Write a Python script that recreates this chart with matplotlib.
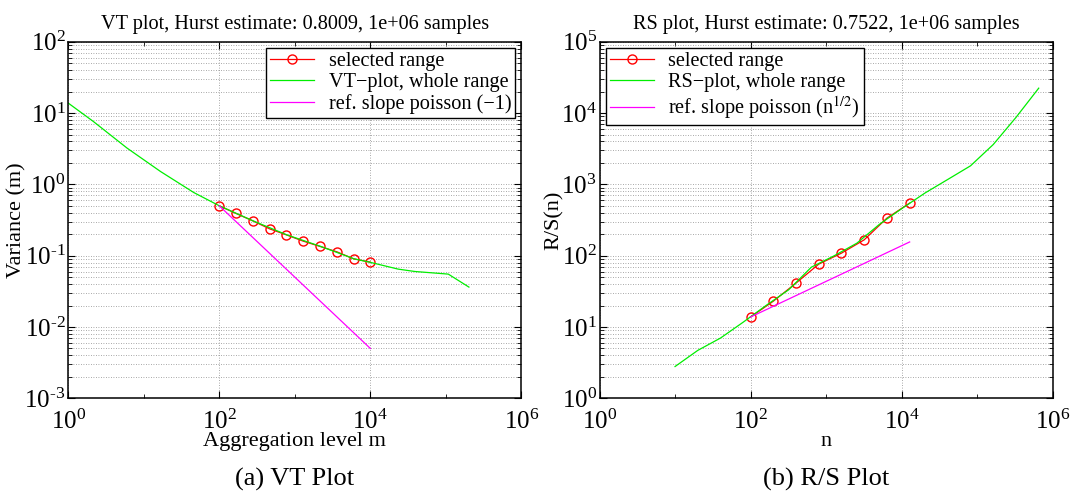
import numpy as np
import matplotlib.pyplot as plt
from matplotlib.ticker import FixedLocator, LogLocator, FuncFormatter, NullFormatter

plt.rcParams['font.family'] = ['Liberation Serif', 'DejaVu Serif']
plt.rcParams['mathtext.fontset'] = 'stix'

# VT plot data
vt_sel_m = [100, 167, 278, 464, 774, 1292, 2154, 3594, 5995, 10000]
vt_sel_var = [0.501, 0.391, 0.308, 0.238, 0.196, 0.160, 0.135, 0.1135, 0.0904, 0.0813]
vt_all_m = [1, 2.15, 6.0, 16.6, 45.9, 100, 280, 785, 2200, 6100, 10140, 23300, 38700, 107700, 202000]
vt_all_var = [13.8, 7.62, 3.23, 1.52, 0.769, 0.501, 0.308, 0.196, 0.135, 0.0904, 0.0804, 0.0649, 0.0601, 0.0552, 0.0363]
vt_ref_m = [100, 10000]
vt_ref_var = [0.5, 0.005]

# RS plot data
rs_sel_n = [100, 200, 400, 800, 1600, 3200, 6400, 12800]
rs_sel_val = [13.8, 23.0, 41.3, 76.2, 108.7, 167, 337, 547]
rs_all_n = [10, 20, 40, 80, 160, 320, 640, 1280, 2560, 5120, 10240, 20480,
            40960, 81920, 163840, 327680, 655360]
rs_all_val = [2.79, 4.7, 7.0, 11.7, 20.0, 33.3, 69.2, 99.8, 150, 277, 464, 759,
              1175, 1824, 3630, 8710, 22400]
rs_ref_n = [100, 12800]
rs_ref_val = [13.8, 156]


def pow10(v, pos):
    e = int(round(np.log10(v)))
    s = str(abs(e))
    if e < 0:
        s = '\u2010' + s  # short hyphen like the matlab labels
    return r'$\mathdefault{10^{%s}}$' % s


def style_axes(ax, ylo, yhi):
    ax.set_xscale('log')
    ax.set_yscale('log')
    ax.set_xlim(1, 1e6)
    ax.set_ylim(ylo, yhi)
    ax.xaxis.set_major_locator(FixedLocator([1, 1e2, 1e4, 1e6]))
    ax.xaxis.set_minor_locator(FixedLocator([10, 1e3, 1e5]))
    ax.xaxis.set_major_formatter(FuncFormatter(pow10))
    ax.xaxis.set_minor_formatter(NullFormatter())
    ax.yaxis.set_major_locator(LogLocator(base=10, numticks=20))
    ax.yaxis.set_major_formatter(FuncFormatter(pow10))
    ax.yaxis.set_minor_locator(LogLocator(base=10, subs=np.arange(2, 10), numticks=20))
    ax.yaxis.set_minor_formatter(NullFormatter())
    ax.tick_params(which='both', direction='in', top=True, right=True, labelsize=18)
    ax.tick_params(which='major', length=5, width=0.8)
    ax.tick_params(which='minor', length=3, width=0.6)
    ax.tick_params(axis='x', which='major', pad=8)
    ax.tick_params(axis='y', which='major', pad=2)
    ax.grid(True, which='major', axis='x', color='0.55', linestyle=(0, (1, 2)), linewidth=0.6)
    ax.grid(True, which='both', axis='y', color='0.55', linestyle=(0, (1, 2)), linewidth=0.6)
    for s in ax.spines.values():
        s.set_linewidth(1.1)


fig = plt.figure(figsize=(10.71, 4.91), dpi=100)

ax1 = fig.add_axes([0.0638, 0.1888, 0.423, 0.726])
ax1.plot(vt_sel_m, vt_sel_var, '-o', color='red', mfc='none', ms=6.5, lw=0.9, label='selected range')
ax1.plot(vt_all_m, vt_all_var, '-', color='#00ee00', lw=0.9, label='VT\u2212plot, whole range')
ax1.plot(vt_ref_m, vt_ref_var, '-', color='magenta', lw=0.9, label='ref. slope poisson (\u22121)')
style_axes(ax1, 1e-3, 1e2)
ax1.set_title('VT plot, Hurst estimate: 0.8009, 1e+06 samples', fontsize=14.6, pad=9)
ax1.set_xlabel('Aggregation level m', fontsize=16)
ax1.set_ylabel('Variance (m)', fontsize=16)
ax1.xaxis.set_label_coords(0.5, -0.094)
ax1.yaxis.set_label_coords(-0.093, 0.5)
leg1 = ax1.legend(loc='upper right', fontsize=14.6, fancybox=False, framealpha=1,
                  edgecolor='black', borderaxespad=0.3, handlelength=2.2,
                  labelspacing=0.1, borderpad=0.2, handletextpad=0.7)
leg1.get_frame().set_linewidth(1.0)

ax2 = fig.add_axes([0.5598, 0.1888, 0.423, 0.726])
ax2.plot(rs_sel_n, rs_sel_val, '-o', color='red', mfc='none', ms=6.5, lw=0.9, label='selected range')
ax2.plot(rs_all_n, rs_all_val, '-', color='#00ee00', lw=0.9, label='RS\u2212plot, whole range')
ax2.plot(rs_ref_n, rs_ref_val, '-', color='magenta', lw=0.9, label='ref. slope poisson (n$^{1/2}$)')
style_axes(ax2, 1, 1e5)
ax2.set_title('RS plot, Hurst estimate: 0.7522, 1e+06 samples', fontsize=14.6, pad=9)
ax2.set_xlabel('n', fontsize=16)
ax2.set_ylabel('R/S(n)', fontsize=16)
ax2.xaxis.set_label_coords(0.5, -0.094)
ax2.yaxis.set_label_coords(-0.078, 0.5)
leg2 = ax2.legend(loc='upper left', fontsize=14.6, fancybox=False, framealpha=1,
                  edgecolor='black', borderaxespad=0.3, handlelength=2.2,
                  labelspacing=0.1, borderpad=0.2, handletextpad=0.7)
leg2.get_frame().set_linewidth(1.0)

fig.text(0.2752, 0.024, '(a) VT Plot', ha='center', va='center', fontsize=19)
fig.text(0.7713, 0.024, '(b) R/S Plot', ha='center', va='center', fontsize=19)

fig.savefig('out.png', dpi=100)
